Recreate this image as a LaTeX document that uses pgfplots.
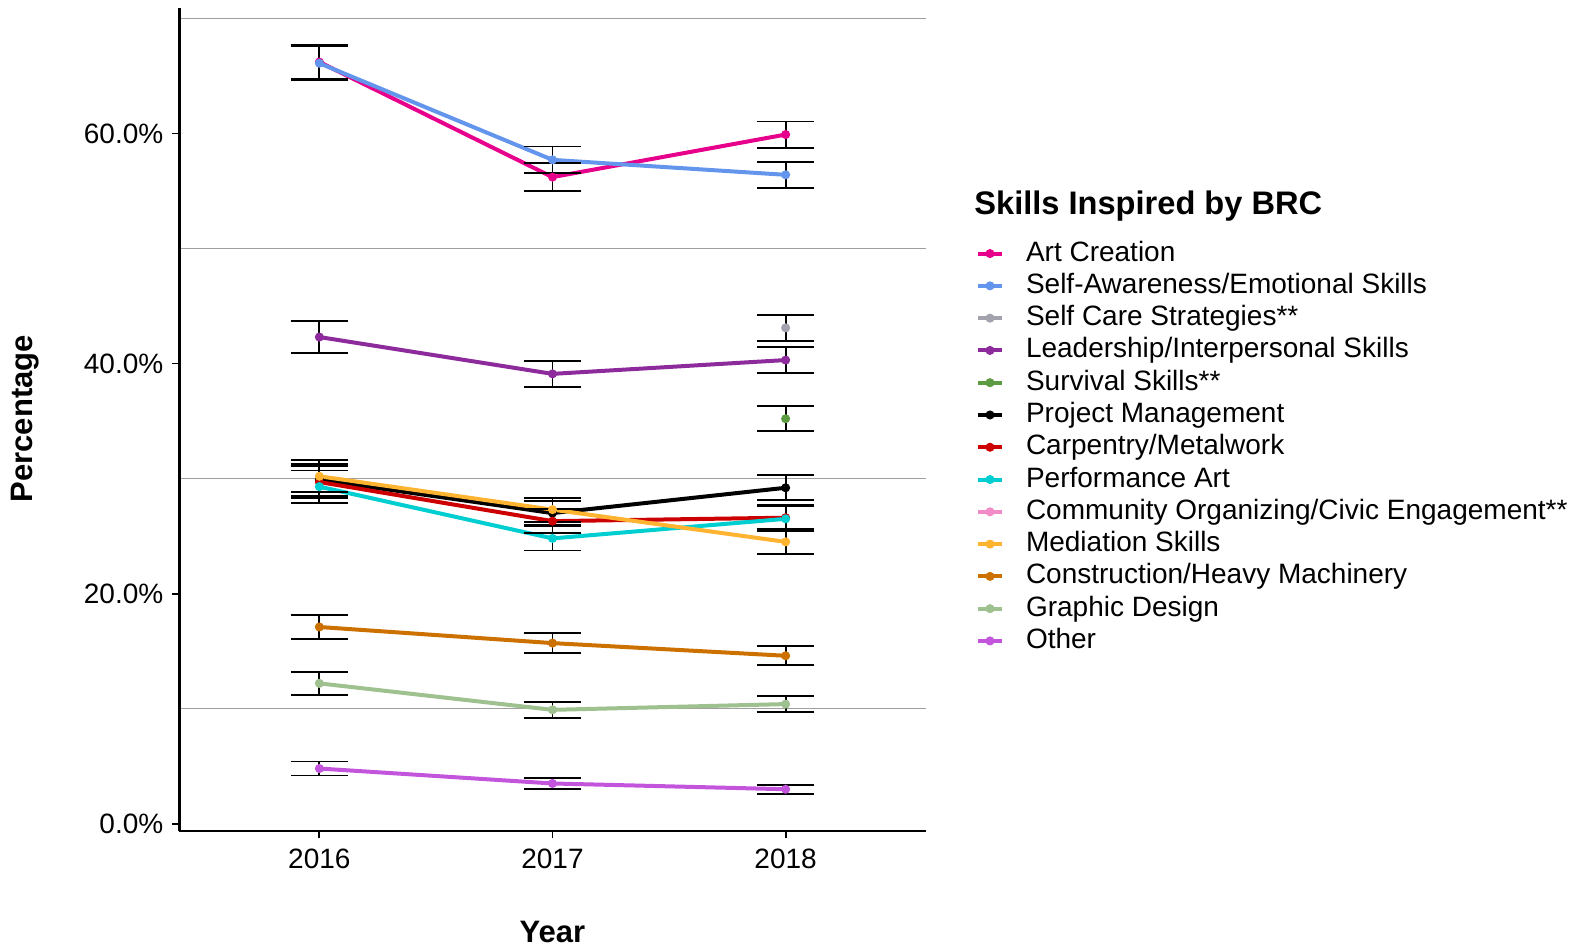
\documentclass[border=0pt]{standalone}
\usepackage{pgfplots}
\usepackage{pgfplotstable}
\pgfplotsset{compat=1.18}
\usepackage{fontspec}
\setmainfont{Liberation Sans}

\definecolor{cart}{HTML}{E7008B}
\definecolor{cself}{HTML}{6495ED}
\definecolor{ccare}{HTML}{A3A3AD}
\definecolor{clead}{HTML}{8E2B9C}
\definecolor{csurv}{HTML}{5D9B42}
\definecolor{cproj}{HTML}{000000}
\definecolor{ccarp}{HTML}{CC0000}
\definecolor{cperf}{HTML}{00CED1}
\definecolor{ccomm}{HTML}{F28CC8}
\definecolor{cmed}{HTML}{FFB431}
\definecolor{ccons}{HTML}{CC7000}
\definecolor{cgraph}{HTML}{9FC08F}
\definecolor{cother}{HTML}{C355DD}

\pgfplotstableread{
x y e
2016 66.2 1.50
2017 56.2 1.20
2018 59.9 1.13
}\tart
\pgfplotstableread{
x y e
2016 66.1 1.50
2017 57.7 1.16
2018 56.4 1.12
}\tself
\pgfplotstableread{
x y e
2018 43.1 1.15
}\tcare
\pgfplotstableread{
x y e
2016 42.3 1.42
2017 39.1 1.11
2018 40.3 1.13
}\tlead
\pgfplotstableread{
x y e
2018 35.2 1.10
}\tsurv
\pgfplotstableread{
x y e
2016 29.9 1.40
2017 27.0 1.05
2018 29.2 1.09
}\tproj
\pgfplotstableread{
x y e
2016 29.7 1.40
2017 26.3 1.05
2018 26.6 1.09
}\tcarp
\pgfplotstableread{
x y e
2016 29.3 1.40
2017 24.8 1.05
2018 26.5 1.09
}\tperf
\pgfplotstableread{
x y e
2016 30.2 1.40
2017 27.3 1.05
2018 24.5 1.09
}\tmed
\pgfplotstableread{
x y e
2016 17.1 1.06
2017 15.7 0.87
2018 14.6 0.84
}\tcons
\pgfplotstableread{
x y e
2016 12.2 1.00
2017 9.9 0.72
2018 10.4 0.70
}\tgraph
\pgfplotstableread{
x y e
2016 4.8 0.61
2017 3.5 0.50
2018 3.0 0.40
}\tother

\pgfplotsset{
  errplot/.style={draw=none, mark=none, forget plot, error bars/.cd, y dir=both, y explicit},
  ln/.style={line width=2pt, mark=*, mark size=2pt, mark options={line width=0.5pt}},
}

\begin{document}
\begin{tikzpicture}
\useasboundingbox (-89.75pt,-58.5pt) rectangle (700.75pt,415.5pt);
\begin{axis}[
  at={(0pt,0pt)}, anchor=south west,
  scale only axis, width=373pt, height=411.5pt,
  xmin=2015.4, xmax=2018.6, ymin=-0.63, ymax=70.9,
  axis x line*=bottom, axis y line*=left,
  axis line style={line width=1.4pt, -, black},
  xtick={2016,2017,2018}, xticklabels={2016,2017,2018},
  ytick={0,20,40,60}, yticklabels={0.0\%,20.0\%,40.0\%,60.0\%},
  minor ytick={10,30,50,70}, yminorgrids=true, ymajorgrids=false, xmajorgrids=false,
  minor grid style={gray!75, line width=0.5pt},
  minor tick length=0pt,
  tick align=outside, major tick length=3.7pt,
  tick style={black, line width=0.9pt},
  ticklabel style={font=\fontsize{14}{16}\selectfont, inner sep=0pt},
  yticklabel style={xshift=-4.2pt},
  xticklabel style={yshift=-5.3pt},
  xlabel={Year}, ylabel={Percentage},
  label style={font=\bfseries\fontsize{15.5}{18}\selectfont},
  xlabel style={at={(axis description cs:0.5,-0.1225)}, anchor=center},
  ylabel style={at={(axis description cs:-0.207,0.501)}, anchor=center},
  error bars/error bar style={draw=black, line width=0.95pt},
  error bars/error mark options={draw=black, rotate=90, mark size=14.4pt, line width=0.95pt},
  legend cell align=left,
  legend image code/.code={\draw[#1, mark=none] (0pt,0pt) -- (12pt,0pt); \draw[#1] plot coordinates {(6pt,0pt)};},
  legend style={draw=none, fill=none, inner sep=0pt, outer sep=0pt,
    at={(axis description cs:1.0677,0.718)}, anchor=north west,
    row sep=2.64pt, column sep=11pt,
    nodes={inner sep=0pt, font=\fontsize{14}{16}\selectfont, text height=10.5pt, text depth=3pt, anchor=west}},
]
\addplot[ln, color=cart] table[x=x,y=y] {\tart};
\addlegendentry{Art Creation}
\addplot[ln, color=cself] table[x=x,y=y] {\tself};
\addlegendentry{Self-Awareness/Emotional Skills}
\addplot[ln, color=ccare] table[x=x,y=y] {\tcare};
\addlegendentry{Self Care Strategies**}
\addplot[ln, color=clead] table[x=x,y=y] {\tlead};
\addlegendentry{Leadership/Interpersonal Skills}
\addplot[ln, color=csurv] table[x=x,y=y] {\tsurv};
\addlegendentry{Survival Skills**}
\addplot[ln, color=cproj] table[x=x,y=y] {\tproj};
\addlegendentry{Project Management}
\addplot[ln, color=ccarp] table[x=x,y=y] {\tcarp};
\addlegendentry{Carpentry/Metalwork}
\addplot[ln, color=cperf] table[x=x,y=y] {\tperf};
\addlegendentry{Performance Art}
\addlegendimage{ln, color=ccomm}
\addlegendentry{Community Organizing/Civic Engagement**}
\addplot[ln, color=cmed] table[x=x,y=y] {\tmed};
\addlegendentry{Mediation Skills}
\addplot[ln, color=ccons] table[x=x,y=y] {\tcons};
\addlegendentry{Construction/Heavy Machinery}
\addplot[ln, color=cgraph] table[x=x,y=y] {\tgraph};
\addlegendentry{Graphic Design}
\addplot[ln, color=cother] table[x=x,y=y] {\tother};
\addlegendentry{Other}

\addplot[errplot] table[x=x,y=y,y error=e] {\tart};
\addplot[errplot] table[x=x,y=y,y error=e] {\tself};
\addplot[errplot] table[x=x,y=y,y error=e] {\tcare};
\addplot[errplot] table[x=x,y=y,y error=e] {\tlead};
\addplot[errplot] table[x=x,y=y,y error=e] {\tsurv};
\addplot[errplot] table[x=x,y=y,y error=e] {\tproj};
\addplot[errplot] table[x=x,y=y,y error=e] {\tcarp};
\addplot[errplot] table[x=x,y=y,y error=e] {\tperf};
\addplot[errplot] table[x=x,y=y,y error=e] {\tmed};
\addplot[errplot] table[x=x,y=y,y error=e] {\tcons};
\addplot[errplot] table[x=x,y=y,y error=e] {\tgraph};
\addplot[errplot] table[x=x,y=y,y error=e] {\tother};
\end{axis}
\node[anchor=base west, inner sep=0pt, font=\bfseries\fontsize{16.3}{18}\selectfont] at (397.25pt,308pt) {Skills Inspired by BRC};
\end{tikzpicture}
\end{document}
